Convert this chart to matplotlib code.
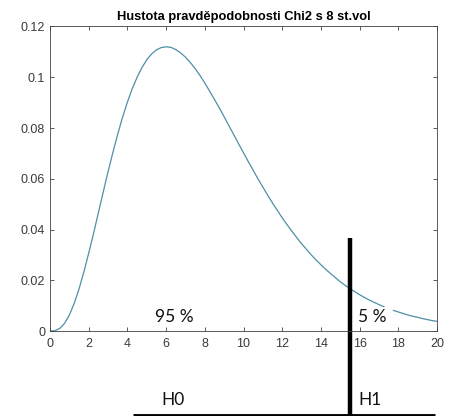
import numpy as np
import matplotlib
matplotlib.use("Agg")
import matplotlib.pyplot as plt

# chi2 density with 8 degrees of freedom, every 0.25
# (the curve is broken in the picture around x = 17.5)
x_vals = np.arange(0, 20.25, 0.25)
pdf_vals = [0.0000, 0.0001, 0.0010, 0.0030, 0.0063, 0.0109, 0.0166, 0.0233,
            0.0307, 0.0385, 0.0466, 0.0548, 0.0628, 0.0704, 0.0776, 0.0843,
            0.0902, 0.0955, 0.1000, 0.1038, 0.1069, 0.1092, 0.1108, 0.1117,
            0.1120, 0.1118, 0.1109, 0.1096, 0.1079, 0.1058, 0.1034, 0.1007,
            0.0977, 0.0945, 0.0912, 0.0879, 0.0844, 0.0808, 0.0773, 0.0737,
            0.0702, 0.0667, 0.0633, 0.0599, 0.0567, 0.0535, 0.0504, 0.0475,
            0.0446, 0.0419, 0.0393, 0.0368, 0.0344, 0.0322, 0.0300, 0.0280,
            0.0261, 0.0243, 0.0226, 0.0210, 0.0194, 0.0180, 0.0167, 0.0155,
            0.0143, 0.0132, 0.0122, 0.0113, 0.0104, 0.0096, np.nan, 0.0081,
            0.0075, 0.0069, 0.0063, 0.0058, 0.0054, 0.0049, 0.0045, 0.0041,
            0.0038]

x_ticks = np.arange(0, 21, 2)
y_ticks = [0, 0.02, 0.04, 0.06, 0.08, 0.1, 0.12]
y_tick_labels = ['0', '0.02', '0.04', '0.06', '0.08', '0.1', '0.12']

crit_value = 15.5  # 95% quantile
title = 'Hustota pravděpodobnosti Chi2 s 8 st.vol'

fig = plt.figure(figsize=(4.49, 4.16), dpi=100)
ax = fig.add_axes([0.1114, 0.2043, 0.862, 0.732])

ax.plot(x_vals, pdf_vals, color='#4f8fa6', linewidth=0.9)

ax.set_xlim(0, 20)
ax.set_ylim(0, 0.12)
ax.set_xticks(x_ticks)
ax.set_yticks(y_ticks)
ax.set_yticklabels(y_tick_labels)
ax.tick_params(direction='in', length=3, width=0.6, top=True, right=True,
               labelsize=9, colors='#404040', labelcolor='#3a3a3a')
ax.tick_params(axis='x', pad=5)
for lab in ax.get_xticklabels() + ax.get_yticklabels():
    lab.set_family('Liberation Sans')
for sp in ax.spines.values():
    sp.set_color('#404040')
    sp.set_linewidth(0.6)

ax.set_title(title, fontsize=9.3, fontweight='bold', family='Liberation Sans', pad=5)

# hand drawn annotations: critical line, regions
ax.plot([crit_value, crit_value], [0.0366, -0.034], color='black', linewidth=3.2,
        clip_on=False, solid_capstyle='butt')
ax.plot([4.3, 19.9], [-0.0333, -0.0333], color='black', linewidth=3.5,
        clip_on=False, solid_capstyle='butt')

txt = dict(family='Lato', fontsize=12.5, color='#111111', va='center')
ax.text(5.4, 0.0055, '95 %', ha='left', **txt)
ax.text(15.9, 0.0055, '5 %', ha='left', **txt)
ax.text(5.75, -0.0272, 'H0', ha='left', clip_on=False, **txt)
ax.text(15.95, -0.0272, 'H1', ha='left', clip_on=False, **txt)

fig.savefig('out.png', dpi=100)
